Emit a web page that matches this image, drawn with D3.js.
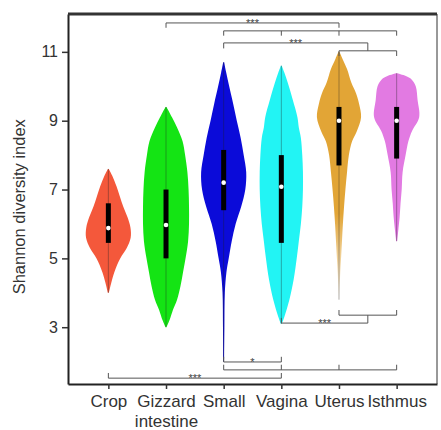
<!DOCTYPE html>
<html>
<head>
<meta charset="utf-8">
<script src="https://cdn.jsdelivr.net/npm/d3@7"></script>
<style>
  body { margin: 0; background: #fff; }
  svg { display: block; font-family: "Liberation Sans", Arial, sans-serif; }
</style>
</head>
<body>
<svg id="chart" width="441" height="430"></svg>
<script>
// groups on the x axis
const categories = ["Crop", "Gizzard", "Small", "Vagina", "Uterus", "Isthmus"];
const subLabels = ["", "intestine", "", "", "", ""];
const colors = ["#f4583b", "#14e414", "#0b0bd9", "#22f4f4", "#e2a536", "#e27ae2"];

// violin outlines: [shannon value, relative density]
const cropViolin = [[4.0,0.02],[4.3,0.13],[4.6,0.26],[5.0,0.52],[5.3,0.8],[5.6,0.97],[5.9,0.96],[6.2,0.83],[6.5,0.65],[6.8,0.5],[7.1,0.35],[7.4,0.17],[7.6,0.02]];
const gizzardViolin = [[3.0,0.02],[3.2,0.15],[3.5,0.3],[3.8,0.48],[4.2,0.63],[4.6,0.74],[5.0,0.85],[5.5,0.96],[6.0,1],[6.5,1],[7.0,0.98],[7.5,0.93],[8.0,0.83],[8.4,0.72],[8.8,0.48],[9.1,0.26],[9.4,0.02]];
const smallViolin = [[2.0,0.02],[3.0,0.03],[4.0,0.05],[4.6,0.12],[5.0,0.22],[5.5,0.35],[6.0,0.52],[6.5,0.76],[7.0,0.94],[7.5,0.98],[8.0,0.87],[8.5,0.74],[9.0,0.57],[9.5,0.41],[10.0,0.24],[10.4,0.11],[10.7,0.02]];
const vaginaViolin = [[3.1,0.02],[3.3,0.13],[3.8,0.35],[4.4,0.54],[5.0,0.67],[5.5,0.76],[6.0,0.85],[6.5,0.91],[7.0,0.94],[7.5,0.94],[8.0,0.91],[8.5,0.85],[8.8,0.76],[9.1,0.7],[9.6,0.5],[10.1,0.28],[10.4,0.13],[10.6,0.02]];
const uterusViolin = [[3.8,0.01],[4.5,0.05],[5.0,0.09],[5.5,0.13],[6.0,0.17],[6.5,0.22],[7.0,0.28],[7.5,0.35],[8.0,0.43],[8.4,0.57],[8.7,0.78],[9.1,0.96],[9.5,0.87],[9.8,0.74],[10.1,0.54],[10.5,0.35],[10.8,0.15],[11.0,0.02]];
const isthmusViolin = [[5.5,0.02],[5.8,0.07],[6.2,0.13],[6.6,0.17],[7.0,0.22],[7.5,0.26],[8.0,0.39],[8.4,0.51],[8.7,0.67],[9.1,0.98],[9.6,0.91],[10.0,0.83],[10.2,0.65],[10.3,0.4],[10.38,0.02]];
const violins = [cropViolin, gizzardViolin, smallViolin, vaginaViolin, uterusViolin, isthmusViolin];

// box summary
const q1 = [5.45, 5.0, 6.4, 5.45, 7.7, 7.9];
const medians = [5.88, 5.97, 7.2, 7.08, 9.0, 9.0];
const q3 = [6.6, 7.0, 8.15, 8.0, 9.4, 9.4];
const mins = [4.0, 3.0, 2.0, 3.1, 3.8, 5.5];
const maxs = [7.6, 9.4, 10.7, 10.6, 11.0, 10.38];

const yTicks = [3, 5, 7, 9, 11];

// significance brackets (group index, level in index units)
const brackets = [
  { from: 1, to: 4, level: 11.84, label: "***", ticks: [[1, 11.7], [4, 11.7]] },
  { from: 2, to: 5, level: 11.61, label: "", ticks: [[2, 11.47], [3, 11.47], [4, 11.47], [5, 11.47]] },
  { from: 2, to: 4.5, level: 11.26, label: "***", ticks: [[2, 11.1], [4.5, 11.03]] },
  { from: 4, to: 5, level: 11.03, label: "", ticks: [[4, 10.88], [5, 10.88]] },
  { from: 4, to: 5, level: 3.35, label: "", ticks: [[4, 3.5], [5, 3.5]] },
  { from: 3, to: 4.5, level: 3.12, label: "***", ticks: [[3, 3.27], [4.5, 3.35]] },
  { from: 2, to: 3, level: 1.99, label: "*", ticks: [[2, 2.14], [3, 2.14]] },
  { from: 2, to: 5, level: 1.76, label: "", ticks: [[2, 1.91], [3, 1.91], [4, 1.91], [5, 1.91]] },
  { from: 0, to: 3, level: 1.52, label: "***", ticks: [[0, 1.67], [3, 1.67]] }
];

const margin = { top: 14, right: 4, bottom: 46, left: 68 };
const width = 441, height = 430;
const innerW = width - margin.left - margin.right;
const innerH = height - margin.top - margin.bottom;

const svg = d3.select("#chart");
const g = svg.append("g").attr("transform", `translate(${margin.left},${margin.top})`);

const x = d3.scalePoint().domain(categories).range([0, innerW]).padding(0.7);
const xi = d3.scaleLinear().domain([0, categories.length - 1])
  .range([x(categories[0]), x(categories[categories.length - 1])]);
const y = d3.scaleLinear().domain([1.35, 12.1]).range([innerH, 0]);
const w = d3.scaleLinear().domain([0, 1]).range([0, 23]);

// fading tail on the uterus violin
const grad = svg.append("defs").append("linearGradient")
  .attr("id", "uterusFade")
  .attr("gradientUnits", "userSpaceOnUse")
  .attr("x1", 0).attr("x2", 0)
  .attr("y1", y(6.3)).attr("y2", y(3.9));
grad.append("stop").attr("offset", "0%").attr("stop-color", colors[4]).attr("stop-opacity", 1);
grad.append("stop").attr("offset", "100%").attr("stop-color", colors[4]).attr("stop-opacity", 0.08);

violins.forEach((v, i) => {
  const cx = x(categories[i]);
  const area = d3.area()
    .y((d) => y(d[0]))
    .x0((d) => cx - w(d[1]))
    .x1((d) => cx + w(d[1]))
    .curve(d3.curveCatmullRom);
  g.append("path")
    .attr("class", "violin")
    .attr("d", area(v))
    .attr("fill", i == 4 ? "url(#uterusFade)" : colors[i]);
});

// whiskers, boxes, medians
g.append("g").selectAll("line")
  .data(categories)
  .enter()
  .append("line")
  .attr("x1", (d) => x(d)).attr("x2", (d) => x(d))
  .attr("y1", (d, i) => y(mins[i])).attr("y2", (d, i) => y(maxs[i]))
  .attr("stroke", "#222")
  .attr("stroke-opacity", 0.45)
  .attr("stroke-width", 0.8);

g.append("g").selectAll("rect")
  .data(categories)
  .enter()
  .append("rect")
  .attr("x", (d) => x(d) - 2.5)
  .attr("width", 5)
  .attr("y", (d, i) => y(q3[i]))
  .attr("height", (d, i) => y(q1[i]) - y(q3[i]))
  .attr("fill", "#000");

g.append("g").selectAll("circle")
  .data(categories)
  .enter()
  .append("circle")
  .attr("cx", (d) => x(d))
  .attr("cy", (d, i) => y(medians[i]))
  .attr("r", 2.3)
  .attr("fill", "#fff");

// brackets
const bg = g.append("g").attr("class", "brackets");
brackets.forEach((b) => {
  bg.append("line")
    .attr("x1", xi(b.from)).attr("x2", xi(b.to))
    .attr("y1", y(b.level)).attr("y2", y(b.level))
    .attr("stroke", "#555").attr("stroke-width", 1);
  b.ticks.forEach((t) => {
    bg.append("line")
      .attr("x1", xi(t[0])).attr("x2", xi(t[0]))
      .attr("y1", y(b.level)).attr("y2", y(t[1]))
      .attr("stroke", "#555").attr("stroke-width", 1);
  });
  if (b.label) {
    bg.append("text")
      .attr("x", (xi(b.from) + xi(b.to)) / 2)
      .attr("y", y(b.level) + 4)
      .attr("text-anchor", "middle")
      .attr("font-size", "11px")
      .attr("fill", "#444")
      .text(b.label);
  }
});

// axes
const yAxis = g.append("g")
  .call(d3.axisLeft(y).tickValues(yTicks).tickSize(6).tickSizeOuter(0));
yAxis.select(".domain").attr("stroke", "#222").attr("stroke-width", 2);
yAxis.selectAll(".tick line").attr("stroke", "#333").attr("stroke-width", 1.5);
yAxis.selectAll(".tick text").attr("font-size", "16px").attr("fill", "#333").attr("dx", "-1");

const xAxis = g.append("g")
  .attr("transform", `translate(0,${innerH})`)
  .call(d3.axisBottom(x).tickSize(5).tickSizeOuter(0));
xAxis.select(".domain").attr("stroke", "#222").attr("stroke-width", 2);
xAxis.selectAll(".tick line").attr("stroke", "#333").attr("stroke-width", 1.5);
xAxis.selectAll(".tick text")
  .attr("font-size", "17px")
  .attr("fill", "#333")
  .attr("dy", "0.9em");
xAxis.selectAll(".tick")
  .append("text")
  .attr("y", 43)
  .attr("text-anchor", "middle")
  .attr("font-size", "17px")
  .attr("fill", "#333")
  .text((d, i) => subLabels[i]);

// top and right frame
g.append("line")
  .attr("x1", 0).attr("x2", innerW)
  .attr("y1", 0).attr("y2", 0)
  .attr("stroke", "#333").attr("stroke-width", 3);
g.append("line")
  .attr("x1", innerW).attr("x2", innerW)
  .attr("y1", 0).attr("y2", innerH)
  .attr("stroke", "#333").attr("stroke-width", 1);

svg.append("text")
  .attr("transform", `translate(25,${margin.top + y(6.5)}) rotate(-90)`)
  .attr("text-anchor", "middle")
  .attr("font-size", "16.5px")
  .attr("fill", "#333")
  .text("Shannon diversity index");
</script>
</body>
</html>
